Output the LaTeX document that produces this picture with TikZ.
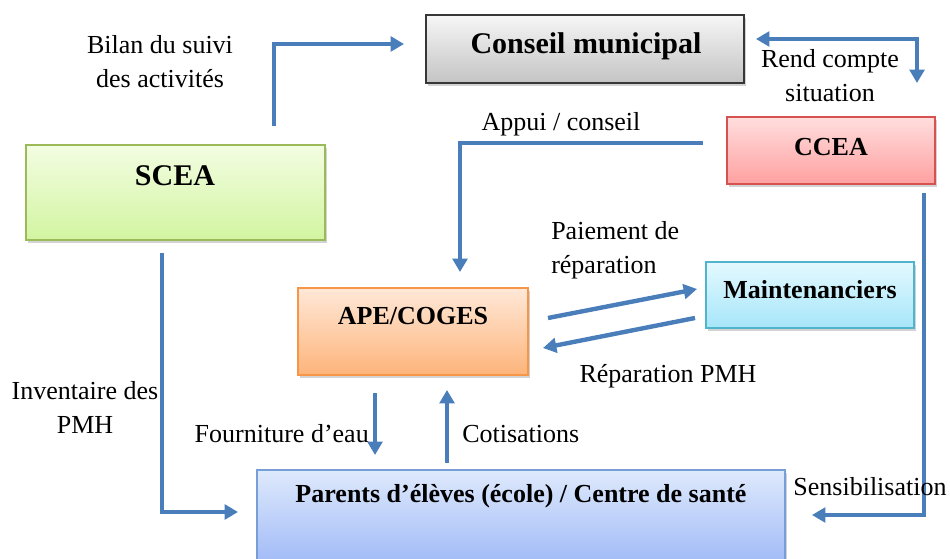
\documentclass[tikz,border=0pt]{standalone}
\usepackage{fontspec}
\setmainfont{Liberation Serif}
\usetikzlibrary{arrows.meta,fit,shadows}

% palette
\definecolor{flow}{RGB}{74,126,187}
\definecolor{grayT}{RGB}{246,246,246}\definecolor{grayB}{RGB}{196,196,196}\definecolor{grayE}{RGB}{55,55,55}
\definecolor{redT}{RGB}{255,222,222}\definecolor{redB}{RGB}{255,160,160}\definecolor{redE}{RGB}{214,82,80}
\definecolor{grnT}{RGB}{243,253,226}\definecolor{grnB}{RGB}{210,245,160}\definecolor{grnE}{RGB}{155,187,89}
\definecolor{orgT}{RGB}{255,232,216}\definecolor{orgB}{RGB}{253,180,122}\definecolor{orgE}{RGB}{247,150,70}
\definecolor{cyaT}{RGB}{228,249,255}\definecolor{cyaB}{RGB}{166,230,249}\definecolor{cyaE}{RGB}{80,180,205}
\definecolor{bluT}{RGB}{222,233,252}\definecolor{bluB}{RGB}{160,193,245}\definecolor{bluE}{RGB}{120,158,215}

\tikzset{
  box/.style={inner sep=0pt, line width=1.1pt,
    drop shadow={opacity=0.35, shadow xshift=1.8pt, shadow yshift=-2.4pt}},
  boxtext/.style={font=\bfseries\fontsize{19.5}{24}\selectfont},
  bigtext/.style={font=\bfseries\fontsize{22.5}{27}\selectfont},
  lbl/.style={font=\fontsize{19.5}{25.5}\selectfont, align=center, inner sep=0pt},
  flowline/.style={draw=flow, line width=3.3pt},
  flowarrow/.style={flowline, -{Triangle[length=10pt,width=11pt]}},
}

\begin{document}
\begin{tikzpicture}[x=0.75pt, y=-0.75pt]
\useasboundingbox (0,0) rectangle (950,559);

% boxes
\node[box, draw=grayE, top color=grayT, bottom color=grayB, fit={(426,15) (744,83)}] (cm) {};
\node[box, draw=redE, top color=redT, bottom color=redB, fit={(727,117) (935,184)}] (ccea) {};
\node[box, draw=grnE, top color=grnT, bottom color=grnB, fit={(26,145) (325,240)}] (scea) {};
\node[box, draw=orgE, top color=orgT, bottom color=orgB, fit={(298,288) (528,375)}] (ape) {};
\node[box, draw=cyaE, top color=cyaT, bottom color=cyaB, fit={(706,262) (914,328)}] (maint) {};
\node[box, draw=bluE, top color=bluT, bottom color=bluB!90!blue, fit={(257,470) (785,590)}] (par) {};

% box titles
\node[bigtext] (cmT) at (586,46) {Conseil municipal};
\node[boxtext] (cceaT) at (831,147) {CCEA};
\node[bigtext] (sceaT) at (175,176) {SCEA};
\node[boxtext] (apeT) at (413,316) {APE/COGES};
\node[boxtext] (maintT) at (810,290) {Maintenanciers};
\node[boxtext] (parT) at (521,496) {Parents d’élèves (école) / Centre de santé};

% connector end points
\coordinate (s1) at (274,126);  \coordinate (e1) at (404,44);
\coordinate (s2) at (756,39);   \coordinate (e2) at (917,83);
\coordinate (s3) at (703,143);  \coordinate (e3) at (460,272);
\coordinate (s4) at (548,318);  \coordinate (e4) at (697,289);
\coordinate (s5) at (695,318);  \coordinate (e5) at (543,348);
\coordinate (s6) at (162,253);  \coordinate (e6) at (238,512);
\coordinate (s7) at (375,393);  \coordinate (e7) at (375,455);
\coordinate (s8) at (447,463);  \coordinate (e8) at (447,390);
\coordinate (s9) at (924,193);  \coordinate (e9) at (812,515);

% connectors
\draw[flowarrow] (s1) |- (e1);
\draw[flowline, {Triangle[length=10pt,width=11pt]}-{Triangle[length=10pt,width=11pt]}] (s2) -| (e2);
\draw[flowarrow] (s3) -| (e3);
\draw[flowarrow] (s4) -- (e4);
\draw[flowarrow] (s5) -- (e5);
\draw[flowarrow] (s6) |- (e6);
\draw[flowarrow] (s7) -- (e7);
\draw[flowarrow] (s8) -- (e8);
\draw[flowarrow] (s9) |- (e9);

% connector labels
\node[lbl] (l1) at (160,62) {Bilan du suivi\\des activités};
\node[lbl] (l2) at (830,76) {Rend compte\\situation};
\node[lbl] (l3) at (561,124) {Appui / conseil};
\node[lbl, align=left, anchor=west] (l4) at (551,250) {Paiement de\\réparation};
\node[lbl] (l5) at (668,376) {Réparation PMH};
\node[lbl] (l6) at (85,407) {Inventaire des\\PMH};
\node[lbl, anchor=east] (l7) at (369,434) {Fourniture d’eau};
\node[lbl, anchor=west] (l8) at (462,434) {Cotisations};
\node[lbl] (l9) at (870,487) {Sensibilisation};
\end{tikzpicture}
\end{document}
